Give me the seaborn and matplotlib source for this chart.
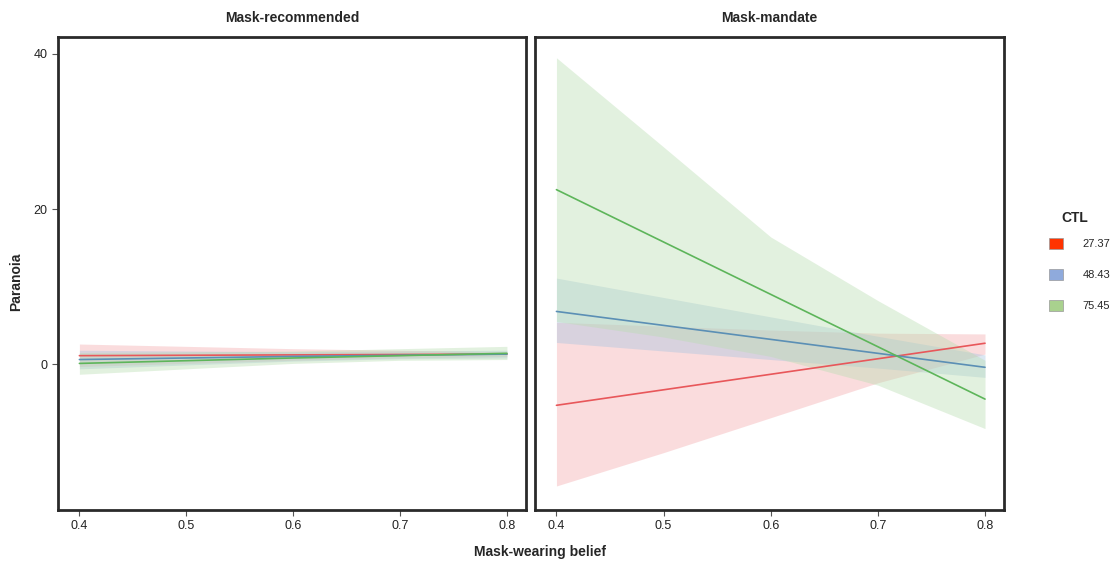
import numpy as np
import pandas as pd
import matplotlib
matplotlib.use("Agg")
import matplotlib.pyplot as plt
import matplotlib.patches as mpatches
import seaborn as sns

# ---- data ----
x_vals = [0.4, 0.5, 0.6, 0.7, 0.8]
panels = ["Mask-recommended", "Mask-mandate"]
ctl_levels = ["27.37", "48.43", "75.45"]

# Mask-recommended
rec_fit = {"27.37": [1.1, 1.15, 1.2, 1.25, 1.3],
           "48.43": [0.6, 0.8, 1.0, 1.15, 1.3],
           "75.45": [0.1, 0.45, 0.8, 1.1, 1.4]}
rec_lo = {"27.37": [-0.3, 0.1, 0.5, 0.8, 1.0],
          "48.43": [-0.6, -0.1, 0.4, 0.7, 0.8],
          "75.45": [-1.3, -0.6, 0.1, 0.5, 0.6]}
rec_hi = {"27.37": [2.6, 2.3, 2.0, 1.8, 1.6],
          "48.43": [1.8, 1.7, 1.6, 1.7, 1.8],
          "75.45": [1.5, 1.6, 1.7, 2.0, 2.3]}

# Mask-mandate
man_fit = {"27.37": [-5.3, -3.3, -1.3, 0.7, 2.7],
           "48.43": [6.8, 5.0, 3.2, 1.4, -0.4],
           "75.45": [22.5, 15.75, 9.0, 2.25, -4.5]}
man_lo = {"27.37": [-15.7, -11.4, -6.9, -2.4, 1.3],
          "48.43": [2.8, 1.7, 0.6, -0.5, -1.7],
          "75.45": [5.5, 3.5, 1.0, -2.7, -8.3]}
man_hi = {"27.37": [5.4, 4.9, 4.4, 4.0, 3.9],
          "48.43": [11.1, 8.6, 6.1, 3.6, 1.2],
          "75.45": [39.5, 28.0, 16.4, 8.2, 0.5]}

line_colors = {"27.37": "#E8575A", "48.43": "#5B8FB5", "75.45": "#5DB55A"}
band_colors = {"27.37": "#F3A9AC", "48.43": "#A7C4E0", "75.45": "#B8DDB0"}
legend_colors = {"27.37": "#FF3300", "48.43": "#8FAADC", "75.45": "#A9D18E"}

# ---- build long frame ----
rows = []
for panel, fit, lo, hi in [(panels[0], rec_fit, rec_lo, rec_hi),
                           (panels[1], man_fit, man_lo, man_hi)]:
    for c in ctl_levels:
        for i, xv in enumerate(x_vals):
            rows.append(dict(panel=panel, CTL=c, belief=xv,
                             fit=fit[c][i], lo=lo[c][i], hi=hi[c][i]))
df = pd.DataFrame(rows)

sns.set_theme(style="white")
plt.rcParams["font.family"] = ["Liberation Sans", "DejaVu Sans"]

fig = plt.figure(figsize=(11.2, 5.64), dpi=100)
ax1 = fig.add_axes([0.0518, 0.0957, 0.418, 0.839])
ax2 = fig.add_axes([0.4777, 0.0957, 0.419, 0.839])

for ax, panel in [(ax1, panels[0]), (ax2, panels[1])]:
    sub = df[df.panel == panel]
    for c in ctl_levels:
        s = sub[sub.CTL == c]
        ax.fill_between(s.belief, s.lo, s.hi, color=band_colors[c],
                        alpha=0.4, linewidth=0)
    sns.lineplot(data=sub, x="belief", y="fit", hue="CTL",
                 palette=line_colors, hue_order=ctl_levels,
                 linewidth=1.2, ax=ax, legend=False)
    ax.set_xlim(0.38, 0.818)
    ax.set_ylim(-18.8, 42.2)
    ax.set_xticks([0.4, 0.5, 0.6, 0.7, 0.8])
    ax.set_xticklabels(["0.4", "0.5", "0.6", "0.7", "0.8"])
    ax.set_xlabel("")
    ax.set_ylabel("")
    ax.set_title(panel, fontsize=10, fontweight="bold", pad=11)
    for sp in ax.spines.values():
        sp.set_visible(True)
        sp.set_color("#2a2a2a")
        sp.set_linewidth(2.0)
    ax.tick_params(axis="both", which="both", length=4, width=0.8,
                   color="#555555", labelsize=9, labelcolor="#222222",
                   bottom=True, left=True, direction="out")

ax1.set_yticks([0, 20, 40])
ax1.set_yticklabels(["0", "20", "40"])
ax2.set_yticks([0, 20, 40])
ax2.tick_params(axis="y", left=False, labelleft=False)

fig.text(0.482, 0.021, "Mask-wearing belief", ha="center", va="center",
         fontsize=10, fontweight="bold")
fig.text(0.014, 0.5, "Paranoia", ha="center", va="center", rotation=90,
         fontsize=10, fontweight="bold")

handles = [mpatches.Patch(facecolor=legend_colors[c], edgecolor="#999999",
                          linewidth=0.5, label=c) for c in ctl_levels]
fig.text(0.96, 1 - 218 / 564, "CTL", ha="center", va="center",
         fontsize=10, fontweight="bold")
leg = fig.legend(handles=handles, loc="center left",
                 bbox_to_anchor=(0.928, 1 - 274.5 / 564), frameon=False,
                 fontsize=8, handlelength=1.2, handleheight=1.2,
                 labelspacing=1.75, handletextpad=1.8)

fig.savefig("out.png", dpi=100, facecolor="white")
